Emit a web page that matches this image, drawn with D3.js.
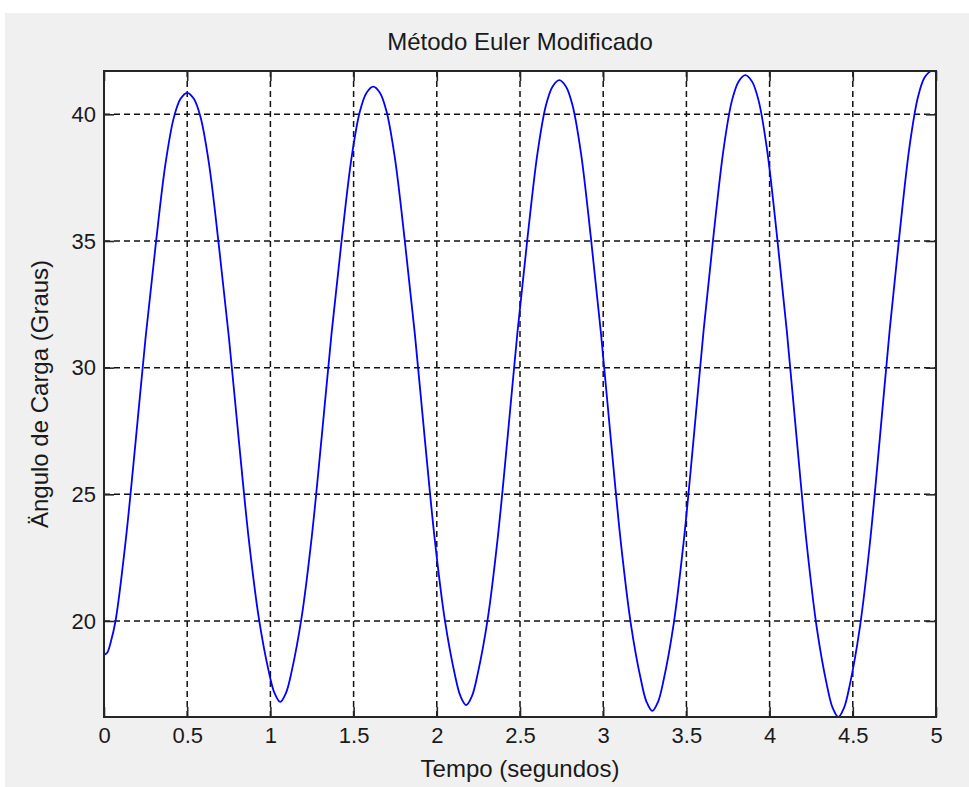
<!DOCTYPE html>
<html><head><meta charset="utf-8">
<script src="https://cdn.jsdelivr.net/npm/d3@7"></script>
<style>
body{margin:0;background:#ffffff;}
svg text{font-family:"Liberation Sans",Arial,Helvetica,sans-serif;fill:#1a1a1a;}
</style></head>
<body><svg id="chart" width="969" height="787"></svg>
<script>
// ---- data ----
const timeValues = [
  0.000, 0.020, 0.040, 0.070, 0.130, 0.190, 0.250, 0.310, 0.370, 0.420, 0.460, 0.500,
  0.540, 0.580, 0.630, 0.690, 0.750, 0.810, 0.870, 0.930, 0.990, 1.025, 1.059,
  1.093, 1.128, 1.188, 1.248, 1.308, 1.368, 1.428, 1.488, 1.538, 1.578, 1.618,
  1.658, 1.698, 1.748, 1.808, 1.868, 1.928, 1.988, 2.048, 2.108, 2.143, 2.177,
  2.211, 2.246, 2.306, 2.366, 2.426, 2.486, 2.546, 2.606, 2.656, 2.696, 2.736,
  2.776, 2.816, 2.866, 2.926, 2.986, 3.046, 3.106, 3.166, 3.226, 3.261, 3.295,
  3.329, 3.364, 3.424, 3.484, 3.544, 3.604, 3.664, 3.724, 3.774, 3.814, 3.854,
  3.894, 3.934, 3.984, 4.044, 4.104, 4.164, 4.224, 4.284, 4.344, 4.379, 4.413,
  4.447, 4.482, 4.542, 4.602, 4.662, 4.722, 4.782, 4.842, 4.892, 4.932, 4.972, 5.000
];
const angleValues = [
  18.66, 18.76, 19.15, 20.03, 23.15, 27.08, 31.19, 34.81, 38.07, 39.88, 40.61, 40.85,
  40.61, 39.89, 38.09, 34.84, 31.23, 27.15, 23.23, 20.13, 18.01, 17.15, 16.81,
  17.15, 18.02, 20.16, 23.29, 27.25, 31.38, 35.02, 38.30, 40.12, 40.85, 41.09,
  40.85, 40.11, 38.28, 34.99, 31.33, 27.18, 23.20, 20.05, 17.90, 17.02, 16.68,
  17.03, 17.92, 20.08, 23.27, 27.29, 31.48, 35.18, 38.51, 40.36, 41.10, 41.35,
  41.10, 40.35, 38.49, 35.13, 31.39, 27.16, 23.10, 19.89, 17.70, 16.80, 16.45,
  16.80, 17.70, 19.91, 23.15, 27.24, 31.51, 35.28, 38.66, 40.55, 41.30, 41.55,
  41.30, 40.54, 38.64, 35.22, 31.41, 27.11, 22.98, 19.71, 17.48, 16.57, 16.21,
  16.57, 17.48, 19.73, 23.02, 27.18, 31.51, 35.34, 38.78, 40.69, 41.46, 41.71, 41.68
];
const xTickValues = [0, 0.5, 1, 1.5, 2, 2.5, 3, 3.5, 4, 4.5, 5];
const xTickLabels = ["0", "0.5", "1", "1.5", "2", "2.5", "3", "3.5", "4", "4.5", "5"];
const yTickValues = [20, 25, 30, 35, 40];
const yTickLabels = ["20", "25", "30", "35", "40"];
const titleText = "Método Euler Modificado";
const xLabelText = "Tempo (segundos)";
const yLabelText = "Ängulo de Carga (Graus)";

// ---- layout ----
const svg = d3.select("#chart");
const W = 969, H = 787;
const L = 104, R = 936, T = 71, B = 717;
const FS = 22, LFS = 24;

svg.append("rect").attr("x", 5).attr("y", 13).attr("width", W - 5).attr("height", H - 13).attr("fill", "#f0f0f0");
svg.append("rect").attr("x", L).attr("y", T).attr("width", R - L).attr("height", B - T).attr("fill", "#ffffff");

const data = timeValues.map((t, i) => ({ t: t, v: angleValues[i] }));
const x = d3.scaleLinear().domain([0, 5]).range([L, R]);
const y = d3.scaleLinear().domain(d3.extent(angleValues)).range([B, T]);

// grid
const grid = svg.append("g").attr("stroke", "#111").attr("stroke-width", 1.5).attr("stroke-dasharray", "6,4");
grid.selectAll("line.gx").data(xTickValues.filter(v => v > 0 && v < 5)).join("line")
  .attr("x1", d => x(d)).attr("x2", d => x(d)).attr("y1", T).attr("y2", B);
grid.selectAll("line.gy").data(yTickValues).join("line")
  .attr("x1", L).attr("x2", R).attr("y1", d => y(d)).attr("y2", d => y(d));

// data line
svg.append("defs").append("clipPath").attr("id", "clip").append("rect")
  .attr("x", L).attr("y", T - 1).attr("width", R - L).attr("height", B - T + 2);
const line = d3.line().x(d => x(d.t)).y(d => y(d.v)).curve(d3.curveCatmullRom.alpha(0.5));
svg.append("path").datum(data).attr("d", line).attr("fill", "none")
  .attr("stroke", "#0000ff").attr("stroke-width", 1.8).attr("clip-path", "url(#clip)");

// axes
function styleAxis(g) {
  g.select(".domain").remove();
  g.selectAll(".tick line").attr("stroke", "#262626").attr("stroke-width", 1.6);
  g.selectAll(".tick text").attr("font-size", FS).attr("fill", "#1a1a1a")
    .attr("font-family", "'Liberation Sans',Arial,sans-serif");
}
const xAxis = d3.axisBottom(x).tickValues(xTickValues).tickFormat((d, i) => xTickLabels[i]).tickSize(-10).tickPadding(10);
svg.append("g").attr("transform", `translate(0,${B})`).call(xAxis).call(styleAxis);
const xAxisTop = d3.axisTop(x).tickValues(xTickValues).tickFormat("").tickSize(-10);
svg.append("g").attr("transform", `translate(0,${T})`).call(xAxisTop).call(styleAxis);
const yAxis = d3.axisLeft(y).tickValues(yTickValues).tickFormat((d, i) => yTickLabels[i]).tickSize(-10).tickPadding(8);
svg.append("g").attr("transform", `translate(${L},0)`).call(yAxis).call(styleAxis);
const yAxisRight = d3.axisRight(y).tickValues(yTickValues).tickFormat("").tickSize(-10);
svg.append("g").attr("transform", `translate(${R},0)`).call(yAxisRight).call(styleAxis);

// box
svg.append("rect").attr("x", L).attr("y", T).attr("width", R - L).attr("height", B - T)
  .attr("fill", "none").attr("stroke", "#262626").attr("stroke-width", 2);

// texts
svg.append("text").attr("x", (L + R) / 2).attr("y", 50).attr("text-anchor", "middle")
  .attr("font-size", LFS).text(titleText);
svg.append("text").attr("x", (L + R) / 2).attr("y", 777).attr("text-anchor", "middle")
  .attr("font-size", LFS).text(xLabelText);
svg.append("text").attr("transform", `translate(48,${(T + B) / 2}) rotate(-90)`).attr("text-anchor", "middle")
  .attr("font-size", LFS).text(yLabelText);
</script>
</body></html>
